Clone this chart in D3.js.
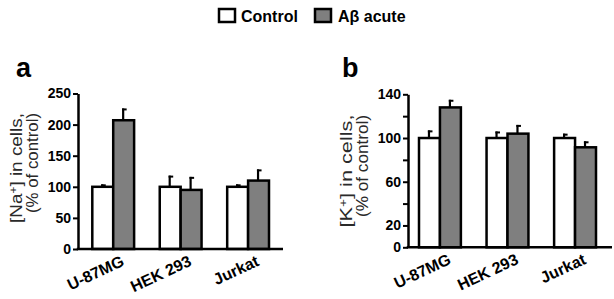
<!DOCTYPE html>
<html>
<head>
<meta charset="utf-8">
<script src="https://cdn.jsdelivr.net/npm/d3@7"></script>
<style>
  html, body { margin: 0; padding: 0; background: #fff; }
  svg { display: block; font-family: "Liberation Sans", Arial, sans-serif; }
</style>
</head>
<body>
<svg id="chart" width="614" height="299"></svg>
<script>
// ---- data ----
const categories = ["U-87MG", "HEK 293", "Jurkat"];
const seriesNames = ["Control", "Aβ acute"];
const naControl = [100, 100, 100];
const naControlErr = [4, 18, 4];
const naAcute = [207, 95, 110];
const naAcuteErr = [19, 21, 18];
const kControl = [100, 100, 100];
const kControlErr = [7, 6, 4];
const kAcute = [128, 104, 91.5];
const kAcuteErr = [7, 8, 5.5];
const naTicks = [0, 50, 100, 150, 200, 250];
const kTicks = [0, 20, 40, 60, 80, 100, 120, 140];
const kTickLabels = [0, 20, 60, 100, 140];

const fills = ["#ffffff", "#7f7f7f"];
const svg = d3.select("#chart");
svg.append("rect").attr("width", 614).attr("height", 299).attr("fill", "#fff");

function panel(opt) {
  const g = svg.append("g");
  const y = d3.scaleLinear().domain(opt.domain).range([opt.y0, opt.y1]);
  const x = d3.scaleBand().domain(categories).range(opt.bandRange)
    .paddingInner(0.38).paddingOuter(0);
  const xs = d3.scaleBand().domain(seriesNames).range([0, x.bandwidth()]);

  // y axis
  const ax = d3.axisLeft(y).tickValues(opt.ticks).tickSize(5).tickSizeOuter(0).tickPadding(2)
    .tickFormat(opt.fmt);
  const ag = g.append("g").attr("transform", `translate(${opt.axisX},0)`).call(ax);
  ag.select(".domain").attr("stroke", "#000").attr("stroke-width", 2.5);
  ag.selectAll(".tick line").attr("stroke", "#000").attr("stroke-width", 2);
  ag.selectAll(".tick text").attr("fill", "#000").attr("font-size", 14)
    .attr("font-weight", "bold").attr("font-family", "'Liberation Sans', Arial, sans-serif");

  // bars
  const series = [opt.control, opt.acute];
  const errs = [opt.controlErr, opt.acuteErr];
  seriesNames.forEach((s, si) => {
    categories.forEach((c, ci) => {
      const v = series[si][ci], e = errs[si][ci];
      const bx = x(c) + xs(s), bw = xs.bandwidth();
      const cx = bx + bw / 2;
      // error bar (upper only)
      g.append("line").attr("x1", cx - 0.5).attr("x2", cx - 0.5)
        .attr("y1", y(v)).attr("y2", y(v + e))
        .attr("stroke", "#000").attr("stroke-width", 2.2);
      g.append("line").attr("x1", cx - 1.6).attr("x2", cx + 3)
        .attr("y1", y(v + e) + 1).attr("y2", y(v + e) + 1)
        .attr("stroke", "#000").attr("stroke-width", 2);
      g.append("rect").attr("x", bx).attr("y", y(v))
        .attr("width", bw).attr("height", y(0) - y(v))
        .attr("fill", fills[si]).attr("stroke", "#000").attr("stroke-width", 2.5);
    });
  });

  // x axis line
  g.append("line").attr("x1", opt.axisX - 1.25).attr("x2", opt.axisEnd)
    .attr("y1", y(0)).attr("y2", y(0)).attr("stroke", "#000").attr("stroke-width", 2.5);

  // x labels
  categories.forEach(c => {
    const cx = x(c) + x.bandwidth() / 2;
    g.append("text").attr("text-anchor", "end")
      .attr("transform", `translate(${cx + 12},${y(0) + 16}) rotate(-25)`)
      .attr("font-size", 16).attr("font-weight", "bold").attr("fill", "#000")
      .text(c);
  });

  // y label (two lines)
  const lab1 = g.append("text").attr("font-size", 16).attr("fill", "#2a2a2a")
    .attr("text-anchor", "middle")
    .attr("transform", `translate(${opt.lab1X},${opt.lab1Y}) rotate(-90)`)
    .attr("textLength", opt.lab1Len).attr("lengthAdjust", "spacingAndGlyphs");
  lab1.append("tspan").text("[" + opt.ion);
  lab1.append("tspan").attr("baseline-shift", "super").attr("font-size", 10).text("+");
  lab1.append("tspan").text("] in cells,");
  g.append("text").attr("font-size", 16).attr("fill", "#2a2a2a")
    .attr("text-anchor", "middle")
    .attr("transform", `translate(${opt.lab2X},${opt.lab2Y}) rotate(-90)`)
    .attr("textLength", opt.lab2Len).attr("lengthAdjust", "spacingAndGlyphs")
    .text("(% of control)");

  // panel letter
  g.append("text").attr("x", opt.letterX).attr("y", 77).attr("font-size", 27)
    .attr("font-weight", "bold").attr("fill", "#000").text(opt.letter);
}

panel({
  domain: [0, 250], y0: 249, y1: 93.5, axisX: 78, axisEnd: 283,
  bandRange: [92.3, 269], ticks: naTicks, fmt: d3.format("d"),
  control: naControl, controlErr: naControlErr, acute: naAcute, acuteErr: naAcuteErr,
  ion: "Na", lab1X: 22, lab1Y: 168, lab1Len: 110, lab2X: 38, lab2Y: 163, lab2Len: 100,
  letter: "a", letterX: 16
});

panel({
  domain: [0, 140], y0: 247.3, y1: 94.3, axisX: 408, axisEnd: 612,
  bandRange: [419, 596], ticks: kTicks,
  fmt: d => kTickLabels.includes(d) ? String(d) : "",
  control: kControl, controlErr: kControlErr, acute: kAcute, acuteErr: kAcuteErr,
  ion: "K", lab1X: 352, lab1Y: 171, lab1Len: 113, lab2X: 368, lab2Y: 166, lab2Len: 102,
  letter: "b", letterX: 342
});

// legend
const lg = svg.append("g");
const legX = [219, 315];
const legTextX = [241, 338];
seriesNames.forEach((s, i) => {
  lg.append("rect").attr("x", legX[i]).attr("y", 9).attr("width", 16).attr("height", 13)
    .attr("fill", fills[i]).attr("stroke", "#000").attr("stroke-width", 2.5);
  lg.append("text").attr("x", legTextX[i]).attr("y", 22).attr("font-size", 16)
    .attr("font-weight", "bold").attr("fill", "#000").text(s);
});
</script>
</body>
</html>
